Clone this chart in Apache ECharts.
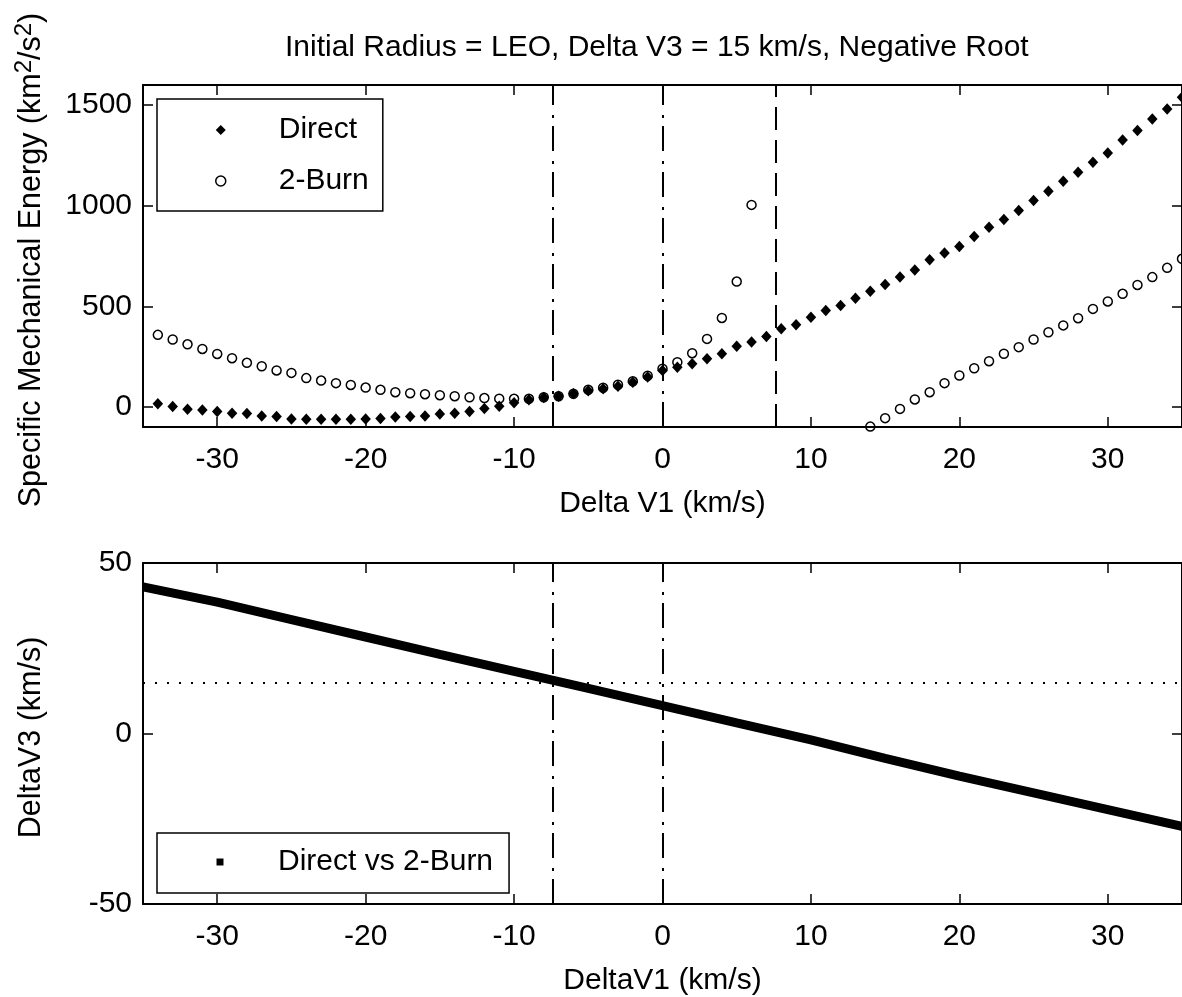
<!DOCTYPE html>
<html><head><meta charset="utf-8">
<script src="https://cdn.jsdelivr.net/npm/echarts@6/dist/echarts.min.js"></script>
<style>html,body{margin:0;padding:0;background:#fff}#c{width:1182px;height:997px}</style>
</head><body><div id="c"></div>
<script>
const titleText = 'Initial Radius = LEO, Delta V3 = 15 km/s, Negative Root';
const deltaV1 = [-34,-33,-32,-31,-30,-29,-28,-27,-26,-25,-24,-23,-22,-21,-20,-19,-18,-17,-16,-15,-14,-13,-12,-11,-10,-9,-8,-7,-6,-5,-4,-3,-2,-1,0,1,2,3,4,5,6,7,8,9,10,11,12,13,14,15,16,17,18,19,20,21,22,23,24,25,26,27,28,29,30,31,32,33,34,35];
const directEnergy = [15,2,-12,-15,-23,-32,-33,-45,-48,-60,-62,-62,-62,-62,-60,-58,-50,-48,-45,-35,-32,-23,-8,3,20,35,47,53,65,80,90,103,123,148,181,197,214,239,264,302,322,350,388,408,446,479,504,540,575,608,645,681,731,765,797,847,893,931,976,1026,1072,1122,1166,1216,1262,1327,1374,1431,1481,1539];
const twoBurnEnergy = [358,335,311,288,263,242,219,202,181,169,143,131,118,109,96,85,73,68,63,58,53,48,44,41,40,40,48,53,65,85,95,110,127,155,190,222,267,338,442,623,1004,null,null,null,null,null,null,null,-98,-56,-10,37,73,118,156,192,227,264,297,335,371,405,441,487,524,562,606,645,691,736];
const lineDeltaV1 = [-35,-30,-25,-20,-15,-10,-5,0,5,10,15,20,25,30,35];
const lineDeltaV3 = [43,38.5,33.4,28.3,23.2,18.2,13.2,8.2,3.1,-1.9,-7.3,-12.5,-17.4,-22.3,-27.2];
const dashDotX = [-7.4, 0];
const dashedX = [7.6];
const dottedV3 = [15];
const xTickRange = [-35, 35];
const energyRange = [-100, 1600];
const v3Range = [-50, 50];

const FONT = 'Liberation Sans, Arial, Helvetica, sans-serif';
const BLACK = '#000';
const DASHDOT = [25, 8, 3, 10];
const DASHED = [23, 10];
const DOTTED = [2, 10];
const plainNum = v => String(v);

function xAxisDef(gridIndex, pos, withLabels, name) {
  return {
    type: 'value', gridIndex, position: pos, min: xTickRange[0], max: xTickRange[1],
    minInterval: 10, maxInterval: 10,
    axisLine: {onZero: false, lineStyle: {color: BLACK, width: 2}},
    axisTick: {show: true, inside: true, length: 10, lineStyle: {color: BLACK, width: 1.5}},
    axisLabel: {show: withLabels, fontSize: 30, color: BLACK, fontFamily: FONT, margin: 18, showMinLabel: false, showMaxLabel: false, formatter: plainNum},
    splitLine: {show: false},
    name: withLabels ? name : '', nameLocation: 'middle', nameGap: 62,
    nameTextStyle: {fontSize: 30, color: BLACK, fontFamily: FONT}
  };
}
function yAxisDef(gridIndex, pos, withLabels, range, extra, name, hideEnds) {
  return Object.assign({
    type: 'value', gridIndex, position: pos, min: range[0], max: range[1],
    axisLine: {onZero: false, lineStyle: {color: BLACK, width: 2}},
    axisTick: {show: true, inside: true, length: 10, lineStyle: {color: BLACK, width: 1.5}},
    axisLabel: {show: withLabels, fontSize: 30, color: BLACK, fontFamily: FONT, margin: 11, formatter: plainNum,
      showMinLabel: !hideEnds, showMaxLabel: !hideEnds},
    splitLine: {show: false},
    name: withLabels ? name : '', nameLocation: 'middle', nameGap: 91,
    nameTextStyle: {fontSize: 30.5, lineHeight: 40, color: BLACK, fontFamily: FONT, padding: [0, 8, 0, 0], rich: {
      n: {fontSize: 30.5, lineHeight: 40, color: BLACK, fontFamily: FONT},
      sup: {fontSize: 24, lineHeight: 24, color: BLACK, fontFamily: FONT, verticalAlign: 'top'}
    }}
  }, extra);
}
function vLines(xs, dash) {
  return xs.map(x => ({xAxis: x, lineStyle: {type: dash, color: BLACK, width: 2}}));
}

const chart = echarts.init(document.getElementById('c'), null, {renderer: 'canvas'});
chart.setOption({
  animation: false,
  backgroundColor: '#fff',
  title: {
    text: titleText, left: 285, top: 33, padding: 0,
    textStyle: {fontSize: 30, fontWeight: 'normal', color: BLACK, fontFamily: FONT}
  },
  grid: [
    {left: 143, top: 85, width: 1039.5, height: 342},
    {left: 143, top: 563, width: 1039.5, height: 342}
  ],
  xAxis: [
    xAxisDef(0, 'bottom', true, 'Delta V1 (km/s)'),
    xAxisDef(0, 'top', false, ''),
    xAxisDef(1, 'bottom', true, 'DeltaV1 (km/s)'),
    xAxisDef(1, 'top', false, '')
  ],
  yAxis: [
    yAxisDef(0, 'left', true, energyRange, {minInterval: 500, maxInterval: 500}, '{n|Specific Mechanical Energy (km}{sup|2}{n|/s}{sup|2}{n|)}', true),
    yAxisDef(0, 'right', false, energyRange, {minInterval: 500, maxInterval: 500}, '', true),
    yAxisDef(1, 'left', true, v3Range, {interval: 50}, '{n|DeltaV3 (km/s)}', false),
    yAxisDef(1, 'right', false, v3Range, {interval: 50}, '', false)
  ],
  legend: [
    {
      orient: 'vertical', left: 157, top: 99,
      padding: [16, 14, 15, 58], itemGap: 21, itemWidth: 106, itemHeight: 10,
      borderColor: BLACK, borderWidth: 1.5, backgroundColor: '#fff',
      textStyle: {fontSize: 30, color: BLACK, fontFamily: FONT},
      itemStyle: {borderWidth: 1.5},
      selectedMode: false,
      data: [
        {name: 'Direct', icon: 'path://M5,0L10,5L5,10L0,5Z'},
        {name: '2-Burn', icon: 'path://M0,5A5,5,0,1,1,10,5A5,5,0,1,1,0,5Z'}
      ]
    },
    {
      orient: 'vertical', left: 157, top: 833,
      padding: [14, 16, 16, 59.5], itemWidth: 106, itemHeight: 7,
      borderColor: BLACK, borderWidth: 1.5, backgroundColor: '#fff',
      textStyle: {fontSize: 30, color: BLACK, fontFamily: FONT},
      lineStyle: {width: 0, opacity: 0},
      selectedMode: false,
      data: [{name: 'Direct vs 2-Burn', icon: 'path://M0,0H10V10H0Z'}]
    }
  ],
  series: [
    {
      name: 'Direct', type: 'scatter', xAxisIndex: 0, yAxisIndex: 0,
      symbol: 'diamond', symbolSize: [10.5, 11.5],
      itemStyle: {color: BLACK, opacity: 1},
      data: deltaV1.map((x, i) => [x, directEnergy[i]]),
      markLine: {
        silent: true, symbol: ['none', 'none'], label: {show: false}, animation: false,
        data: vLines(dashDotX, DASHDOT).concat(vLines(dashedX, DASHED))
      },
      z: 3
    },
    {
      name: '2-Burn', type: 'scatter', xAxisIndex: 0, yAxisIndex: 0,
      symbol: 'circle', symbolSize: 9,
      itemStyle: {color: 'rgba(0,0,0,0)', borderColor: BLACK, borderWidth: 1.5, opacity: 1},
      data: deltaV1.map((x, i) => [x, twoBurnEnergy[i]]).filter(p => p[1] !== null),
      z: 4
    },
    {
      name: 'Direct vs 2-Burn', type: 'line', xAxisIndex: 2, yAxisIndex: 2,
      symbol: 'rect', symbolSize: 7, showSymbol: false,
      itemStyle: {color: BLACK},
      lineStyle: {color: BLACK, width: 9, cap: 'butt'},
      data: lineDeltaV1.map((x, i) => [x, lineDeltaV3[i]]),
      markLine: {
        silent: true, symbol: ['none', 'none'], label: {show: false}, animation: false,
        data: vLines(dashDotX, DASHDOT).concat(dottedV3.map(v => ({yAxis: v, lineStyle: {type: DOTTED, color: BLACK, width: 2}})))
      },
      z: 3
    }
  ]
});
</script></body></html>
